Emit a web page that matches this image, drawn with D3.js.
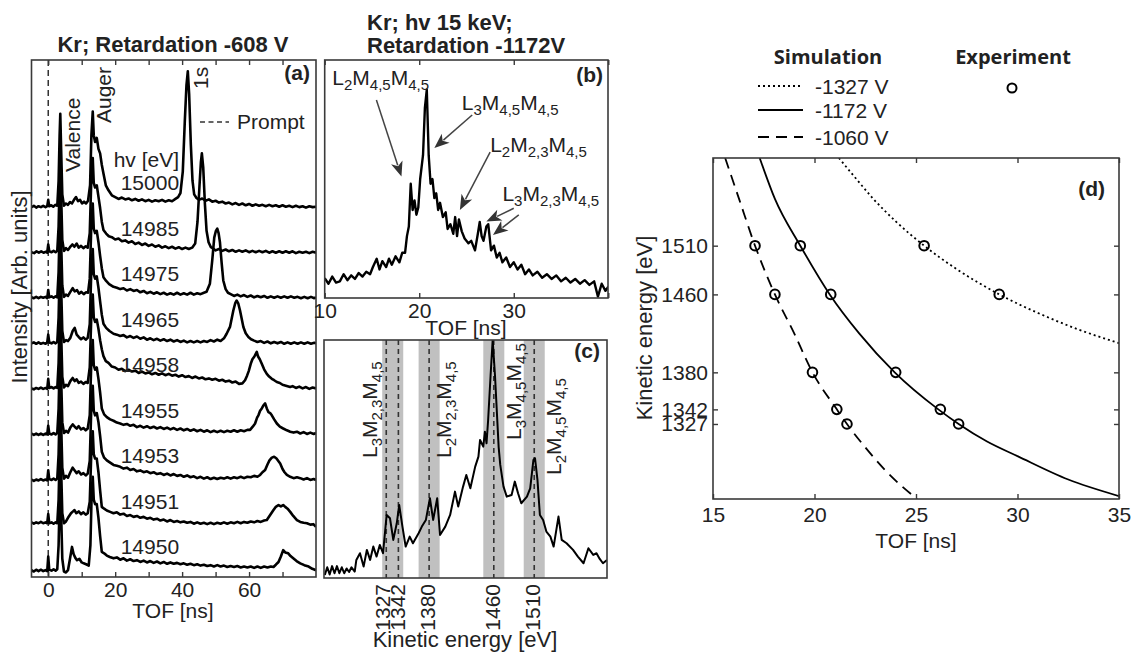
<!DOCTYPE html>
<html><head><meta charset="utf-8">
<script src="https://cdn.jsdelivr.net/npm/d3@7"></script>
<style>body{margin:0;background:#fff}svg{display:block}</style>
</head><body><svg id="c" width="1132" height="653"></svg>
<script>
// ---------------- DATA ----------------
// Panel (a): photon energies (top to bottom) and TOF spectra [TOF ns, intensity]
const hvLabels = ["15000","14985","14975","14965","14958","14955","14953","14951","14950"];
const tr15000 = [[-5,.02],[-4.3,.05],[-3.6,.01],[-2.9,.04],[-2.2,.02],[-1.5,.05],[-0.8,.02],[-0.3,.04],[0,.18],[0.3,.04],[0.9,.06],[1.5,.03],[2.1,.07],[2.7,.05],[3.1,.6],[3.4,1.6],[3.6,2.07],[3.85,1.3],[4.2,.3],[4.7,.05],[5.3,.1],[5.9,.07],[6.5,.13],[7.1,.1],[7.7,.18],[8.3,.24],[8.9,.15],[9.5,.18],[10.1,.1],[10.7,.14],[11.3,.1],[11.9,.16],[12.5,.5],[12.9,1.6],[13.3,2.12],[13.6,1.6],[14.0,1.45],[14.5,1.54],[15.0,1.3],[15.5,1.2],[16.0,.95],[16.5,.76],[17.2,.5],[18.0,.39],[19.0,.28],[20,.24],[21,.2],[22,.23],[23,.19],[24,.21],[25,.17],[26,.2],[27,.16],[28,.19],[29,.15],[30,.18],[31,.14],[32,.17],[33,.15],[34,.18],[35,.14],[36,.17],[37,.15],[38,.2],[38.8,.24],[39.5,.33],[40.2,.8],[40.8,1.9],[41.3,2.7],[41.7,3.0],[42.1,2.5],[42.6,1.4],[43.1,.6],[43.6,.3],[44.3,.22],[45,.18],[46,.21],[47,.16],[48,.19],[49,.14],[50,.16],[51,.12],[52,.14],[53,.1],[54,.12],[55,.08],[56,.11],[57,.07],[58,.1],[59,.06],[60,.09],[61,.05],[62,.08],[63,.05],[64,.07],[65,.04],[66,.07],[67,.04],[68,.06],[69,.03],[70,.06],[71,.03],[72,.05],[73,.02],[74,.05],[75,.02],[76,.04],[77,.01],[78,.04],[79,.02],[80,.03]];
const tr14985 = [[-5,.03],[-4.2,.01],[-3.5,.05],[-2.8,.02],[-2.1,.05],[-1.4,.02],[-0.7,.04],[-0.3,.02],[0,.2],[0.3,.05],[1,.03],[1.6,.06],[2.2,.03],[2.7,.06],[3.1,.6],[3.4,1.6],[3.6,2.05],[3.85,1.3],[4.2,.3],[4.7,.06],[5.3,.12],[5.9,.08],[6.5,.14],[7.2,.2],[7.8,.15],[8.5,.22],[9.1,.13],[9.8,.17],[10.5,.12],[11.2,.16],[11.8,.13],[12.4,.45],[12.9,1.7],[13.3,2.1],[13.6,1.55],[14.0,1.45],[14.5,1.5],[15.0,1.25],[15.5,1.0],[16.0,.7],[16.5,.52],[17.3,.44],[18.1,.38],[19,.36],[20,.31],[21,.33],[22,.27],[23,.29],[24,.24],[25,.27],[26,.21],[27,.24],[28,.19],[29,.22],[30,.17],[31,.2],[32,.15],[33,.18],[34,.13],[35,.16],[36,.12],[37,.15],[38,.11],[39,.14],[40,.1],[41,.13],[42,.1],[43,.13],[43.9,.22],[44.6,.7],[45.2,1.5],[45.6,2.0],[45.9,2.2],[46.3,1.9],[46.8,1.1],[47.3,.5],[47.9,.25],[48.6,.14],[49.3,.11],[50,.07],[51,.1],[52,.06],[53,.09],[54,.05],[55,.08],[56,.04],[57,.07],[58,.04],[59,.07],[60,.03],[61,.06],[62,.03],[63,.06],[64,.03],[65,.06],[66,.02],[67,.05],[68,.02],[69,.05],[70,.02],[71,.05],[72,.02],[73,.05],[74,.01],[75,.04],[76,.02],[77,.04],[78,.01],[79,.04],[80,.02]];
const tr14975 = [[-5,.04],[-4.3,.02],[-3.6,.05],[-2.9,.02],[-2.2,.05],[-1.5,.03],[-0.8,.05],[-0.3,.02],[0,.2],[0.3,.04],[1,.06],[1.6,.03],[2.2,.06],[2.7,.04],[3.1,.6],[3.4,1.6],[3.6,2.05],[3.85,1.3],[4.2,.3],[4.7,.05],[5.3,.1],[5.9,.07],[6.6,.16],[7.3,.24],[7.9,.17],[8.6,.2],[9.2,.12],[9.9,.16],[10.6,.11],[11.3,.15],[11.9,.14],[12.4,.45],[12.9,1.7],[13.3,2.1],[13.6,1.55],[14.0,1.45],[14.5,1.5],[15.0,1.25],[15.5,.95],[16,.68],[16.5,.48],[17.3,.4],[18.2,.33],[19.5,.27],[20.5,.25],[21.5,.22],[22.5,.24],[23.5,.19],[24.5,.22],[25.5,.18],[26.5,.2],[27.5,.15],[28.5,.18],[29.5,.13],[30.5,.16],[31.5,.12],[32.5,.15],[33.5,.11],[34.5,.14],[35.5,.1],[36.5,.13],[37.5,.1],[38.5,.14],[39.5,.1],[40.5,.13],[41.5,.1],[42.5,.14],[43.5,.1],[44.5,.13],[45.5,.11],[46.5,.14],[47.3,.16],[48.3,.34],[49.0,.85],[49.6,1.35],[50.1,1.5],[50.5,1.55],[50.9,1.45],[51.3,1.25],[51.8,.8],[52.3,.41],[53.0,.22],[53.7,.14],[54.5,.11],[55.5,.07],[56.5,.1],[57.5,.06],[58.5,.09],[59.5,.05],[60.5,.08],[61.5,.04],[62.5,.07],[63.5,.04],[64.5,.07],[65.5,.03],[66.5,.06],[67.5,.03],[68.5,.06],[69.5,.03],[70.5,.06],[71.5,.03],[72.5,.06],[73.5,.03],[74.5,.05],[75.5,.02],[76.5,.05],[77.5,.02],[78.5,.05],[79.5,.02],[80,.04]];
const tr14965 = [[-5,.03],[-4.3,.05],[-3.6,.02],[-2.9,.05],[-2.2,.02],[-1.5,.04],[-0.8,.02],[-0.3,.05],[0,.22],[0.3,.05],[1,.03],[1.6,.06],[2.2,.03],[2.7,.06],[3.1,.6],[3.4,1.6],[3.6,2.05],[3.85,1.3],[4.2,.3],[4.7,.06],[5.3,.1],[5.9,.08],[6.6,.15],[7.3,.3],[7.9,.37],[8.5,.22],[9.1,.17],[9.8,.12],[10.5,.16],[11.2,.11],[11.8,.15],[12.4,.45],[12.9,1.7],[13.3,2.1],[13.6,1.55],[14.0,1.45],[14.5,1.5],[15.0,1.25],[15.5,.95],[16,.66],[16.5,.46],[17.3,.37],[18.3,.3],[19.5,.24],[20.5,.22],[21.5,.19],[22.5,.21],[23.5,.16],[24.5,.19],[25.5,.15],[26.5,.18],[27.5,.13],[28.5,.16],[29.5,.11],[30.5,.14],[31.5,.1],[32.5,.13],[33.5,.09],[34.5,.12],[35.5,.08],[36.5,.11],[37.5,.07],[38.5,.1],[39.5,.06],[40.5,.09],[41.5,.05],[42.5,.08],[43.5,.05],[44.5,.08],[45.5,.05],[46.5,.08],[47.5,.06],[48.5,.1],[49.5,.07],[50.5,.11],[51.5,.08],[52.5,.14],[53.3,.24],[54.3,.39],[55.3,.75],[55.9,.92],[56.3,.97],[56.8,.9],[57.3,.75],[58.3,.39],[59,.25],[59.8,.17],[60.6,.12],[61.5,.09],[62.5,.06],[63.5,.08],[64.5,.04],[65.5,.07],[66.5,.03],[67.5,.06],[68.5,.03],[69.5,.06],[70.5,.02],[71.5,.05],[72.5,.02],[73.5,.05],[74.5,.02],[75.5,.05],[76.5,.02],[77.5,.05],[78.5,.02],[79.5,.04],[80,.03]];
const tr14958 = [[-5,.04],[-4.3,.02],[-3.6,.05],[-2.9,.03],[-2.2,.06],[-1.5,.03],[-0.8,.05],[-0.3,.03],[0,.25],[0.3,.05],[1,.07],[1.6,.04],[2.2,.07],[2.7,.05],[3.1,.6],[3.4,1.6],[3.6,2.05],[3.85,1.3],[4.2,.3],[4.7,.06],[5.3,.12],[5.9,.09],[6.6,.2],[7.3,.27],[7.9,.2],[8.5,.24],[9.1,.16],[9.8,.19],[10.5,.14],[11.2,.18],[11.8,.16],[12.4,.5],[12.9,1.7],[13.3,2.1],[13.6,1.6],[14.0,1.5],[14.5,1.55],[15.0,1.35],[15.5,1.1],[16,.9],[16.5,.75],[17.2,.64],[18,.6],[19,.52],[20,.5],[21,.45],[22,.47],[23,.42],[24,.45],[25,.41],[26,.43],[27,.38],[28,.41],[29,.37],[30,.39],[31,.35],[32,.38],[33,.34],[34,.37],[35,.33],[36,.36],[37,.32],[38,.34],[39,.3],[40,.33],[41,.29],[42,.31],[43,.27],[44,.3],[45,.26],[46,.28],[47,.24],[48,.26],[49,.23],[50,.25],[51,.21],[52,.23],[53,.19],[54,.21],[55,.17],[56,.19],[57,.14],[58,.15],[58.8,.22],[59.4,.32],[59.9,.42],[60.5,.58],[61.0,.68],[61.6,.74],[62.0,.8],[62.3,.84],[62.7,.74],[63.2,.68],[63.8,.58],[64.5,.46],[65.3,.36],[66,.3],[66.8,.25],[67.5,.22],[68.3,.18],[69.2,.16],[70,.12],[71,.1],[72.3,.07],[73,.09],[74,.05],[75,.08],[76,.04],[77,.07],[78,.03],[79,.06],[80,.04]];
const tr14955 = [[-5,.05],[-4.3,.02],[-3.6,.05],[-2.9,.02],[-2.2,.05],[-1.5,.02],[-0.8,.05],[-0.3,.03],[0,.22],[0.3,.05],[1,.03],[1.6,.06],[2.2,.03],[2.7,.06],[3.1,.6],[3.4,1.6],[3.6,2.05],[3.85,1.3],[4.2,.3],[4.7,.06],[5.3,.11],[5.9,.07],[6.6,.18],[7.3,.25],[7.9,.2],[8.5,.16],[9.1,.21],[9.8,.14],[10.5,.17],[11.2,.12],[11.8,.16],[12.4,.45],[12.9,1.7],[13.3,2.1],[13.6,1.55],[14.0,1.45],[14.5,1.5],[15.0,1.25],[15.5,.95],[16,.6],[16.7,.47],[17.5,.41],[18.5,.36],[19.5,.33],[20.5,.29],[21.5,.27],[22.5,.24],[23.5,.26],[24.5,.22],[25.5,.24],[26.5,.19],[27.5,.22],[28.5,.18],[29.5,.21],[30.5,.17],[31.5,.2],[32.5,.16],[33.5,.19],[34.5,.15],[35.5,.18],[36.5,.14],[37.5,.17],[38.5,.13],[39.5,.16],[40.5,.12],[41.5,.15],[42.5,.11],[43.5,.14],[44.5,.1],[45.5,.13],[46.5,.09],[47.5,.12],[48.5,.08],[49.5,.11],[50.5,.08],[51.5,.11],[52.5,.08],[53.5,.11],[54.5,.09],[55.5,.12],[56.5,.09],[57.5,.12],[58.5,.1],[59.5,.13],[60.3,.13],[61.1,.2],[61.8,.27],[62.4,.4],[62.8,.45],[63.3,.55],[63.8,.6],[64.3,.67],[64.8,.71],[65.3,.6],[65.8,.52],[66.3,.5],[66.8,.45],[67.5,.36],[68.3,.27],[69.2,.2],[70.2,.16],[71.3,.12],[72.3,.09],[73.3,.07],[74.3,.09],[75.3,.05],[76.3,.08],[77.3,.04],[78.3,.07],[79.3,.04],[80,.06]];
const tr14953 = [[-5,.04],[-4.3,.01],[-3.6,.04],[-2.9,.02],[-2.2,.05],[-1.5,.02],[-0.8,.04],[-0.3,.02],[0,.24],[0.3,.05],[1,.03],[1.6,.06],[2.2,.03],[2.7,.06],[3.1,.6],[3.4,1.6],[3.6,2.05],[3.85,1.3],[4.2,.3],[4.7,.06],[5.3,.12],[5.9,.08],[6.6,.2],[7.3,.3],[7.9,.24],[8.5,.18],[9.1,.22],[9.8,.15],[10.5,.18],[11.2,.13],[11.8,.17],[12.4,.45],[12.9,1.7],[13.3,2.1],[13.6,1.55],[14.0,1.45],[14.5,1.5],[15.0,1.3],[15.5,1.0],[16,.65],[16.7,.52],[17.5,.46],[18.5,.41],[19.5,.36],[20.5,.34],[21.5,.32],[22.5,.28],[23.5,.3],[24.5,.25],[25.5,.27],[26.5,.22],[27.5,.24],[28.5,.2],[29.5,.22],[30.5,.18],[31.5,.2],[32.5,.16],[33.5,.18],[34.5,.14],[35.5,.17],[36.5,.13],[37.5,.16],[38.5,.12],[39.5,.14],[40.5,.1],[41.5,.13],[42.5,.09],[43.5,.11],[44.5,.07],[45.5,.1],[46.5,.06],[47.5,.09],[48.5,.05],[49.5,.08],[50.5,.05],[51.5,.08],[52.5,.06],[53.5,.09],[54.5,.06],[55.5,.09],[56.5,.07],[57.5,.1],[58.5,.07],[59.5,.1],[60.5,.09],[61.5,.12],[62.5,.1],[63.3,.14],[64,.2],[64.8,.25],[65.5,.37],[66.1,.46],[66.8,.52],[67.5,.54],[68.2,.5],[68.8,.44],[69.3,.39],[70,.27],[70.6,.2],[71.3,.14],[72.3,.1],[73.3,.07],[74.3,.09],[75.3,.07],[76.3,.04],[77.3,.07],[78.3,.03],[79.3,.05],[80,.03]];
const tr14951 = [[-5,.1],[-4.3,.07],[-3.6,.1],[-2.9,.08],[-2.2,.11],[-1.5,.08],[-0.8,.1],[-0.3,.08],[0,.28],[0.3,.08],[1,.1],[1.6,.07],[2.2,.1],[2.7,.08],[3.1,.6],[3.4,1.6],[3.6,2.05],[3.85,1.3],[4.2,.3],[4.7,.08],[5.3,.12],[5.9,.2],[6.8,.3],[7.4,.34],[7.8,.37],[8.4,.3],[9.1,.34],[9.8,.28],[10.5,.32],[11.2,.27],[11.8,.3],[12.4,.55],[12.9,1.7],[13.3,2.1],[13.6,1.6],[14.0,1.5],[14.5,1.5],[15.0,1.2],[15.5,.8],[16,.44],[16.7,.4],[17.5,.36],[18.5,.33],[19.5,.3],[20.5,.32],[21.5,.27],[22.5,.29],[23.5,.24],[24.5,.26],[25.5,.22],[26.5,.24],[27.5,.2],[28.5,.22],[29.5,.18],[30.5,.2],[31.5,.16],[32.5,.18],[33.5,.14],[34.5,.16],[35.5,.12],[36.5,.15],[37.5,.11],[38.5,.13],[39.5,.1],[40.5,.12],[41.5,.09],[42.5,.11],[43.5,.07],[44.5,.1],[45.5,.07],[46.5,.09],[47.5,.06],[48.5,.09],[49.5,.06],[50.5,.09],[51.5,.07],[52.5,.1],[53.5,.07],[54.5,.1],[55.5,.08],[56.5,.11],[57.5,.08],[58.5,.11],[59.5,.09],[60.5,.12],[61.5,.1],[62.5,.13],[63.5,.11],[64.5,.14],[65.3,.15],[66.2,.25],[67.3,.37],[68,.44],[68.8,.48],[69.5,.45],[70.2,.48],[70.8,.44],[71.5,.4],[72.3,.33],[73.2,.24],[74.3,.15],[75.3,.11],[76.3,.09],[77.3,.08],[78.3,.05],[79.2,.06],[80,.0]];
const tr14950 = [[-5,.05],[-4.3,.02],[-3.6,.06],[-2.9,.03],[-2.2,.06],[-1.5,.03],[-0.8,.05],[-0.3,.03],[0,.35],[0.3,.06],[1,.04],[1.6,.07],[2.2,.04],[2.7,.07],[3.1,.6],[3.4,1.6],[3.6,2.05],[3.85,1.3],[4.2,.3],[4.7,.02],[5.3,.0],[5.9,.05],[6.5,.3],[7.1,.56],[7.6,.4],[8.1,.32],[8.6,.27],[9.3,.3],[10,.22],[10.6,.2],[11.3,.18],[12.1,.15],[12.6,.6],[13.0,1.8],[13.3,2.1],[13.6,1.6],[14.0,1.5],[14.5,1.5],[15.0,1.2],[15.5,.8],[16,.45],[16.7,.42],[17.5,.37],[18.4,.34],[19.5,.31],[20.5,.33],[21.5,.28],[22.5,.31],[23.5,.26],[24.5,.29],[25.5,.25],[26.5,.27],[27.5,.23],[28.5,.26],[29.5,.22],[30.5,.25],[31.5,.21],[32.5,.24],[33.5,.2],[34.5,.23],[35.5,.19],[36.5,.22],[37.5,.19],[38.5,.21],[39.5,.18],[40.5,.2],[41.5,.17],[42.5,.19],[43.5,.16],[44.5,.18],[45.5,.15],[46.5,.17],[47.5,.14],[48.5,.16],[49.5,.13],[50.5,.16],[51.5,.13],[52.5,.15],[53.5,.12],[54.5,.14],[55.5,.12],[56.5,.14],[57.5,.11],[58.5,.13],[59.5,.11],[60.5,.13],[61.5,.1],[62.5,.13],[63.5,.1],[64.5,.13],[65.5,.11],[66.5,.13],[67.3,.12],[68,.17],[68.8,.23],[69.5,.35],[70.2,.49],[70.8,.44],[71.7,.42],[72.4,.36],[73.2,.31],[74.2,.25],[75.3,.2],[76.5,.16],[77.8,.13],[78.9,.08],[80,.05]];
const tracesA = [tr15000,tr14985,tr14975,tr14965,tr14958,tr14955,tr14953,tr14951,tr14950];
const tickA = [0,10,20,30,40,50,60,70];
const tickLabelA = [0,20,40,60];

// Panel (b): TOF [ns] and intensity
const tofB = [10,10.4,10.8,11.2,11.6,12,12.4,12.8,13.2,13.6,14,14.4,14.8,15.1,15.5,15.8,16.1,16.5,16.8,17.1,17.5,17.9,18.2,18.5,18.7,18.9,19.1,19.3,19.5,19.7,19.9,20.1,20.4,20.6,20.8,21,21.2,21.4,21.6,21.8,22,22.2,22.5,22.8,23,23.3,23.6,23.8,24,24.2,24.5,24.8,25.2,25.5,25.9,26.2,26.4,26.6,26.8,27.1,27.3,27.6,27.9,28.2,28.5,28.8,29.2,29.6,30,30.4,30.8,31.2,31.6,32,32.5,33,33.5,34,34.5,35,35.5,36,36.5,37,37.5,38,38.5,38.9,39.3,39.7,40];
const intB = [.083,.06,.09,.065,.07,.1,.075,.095,.08,.105,.09,.11,.1,.13,.165,.12,.155,.13,.165,.14,.175,.15,.19,.19,.26,.3,.48,.37,.41,.35,.38,.5,.6,.8,.875,.6,.48,.5,.42,.44,.37,.4,.34,.36,.29,.31,.27,.34,.26,.33,.28,.25,.23,.24,.2,.27,.32,.26,.24,.3,.31,.2,.22,.17,.19,.15,.17,.13,.15,.12,.14,.1,.12,.095,.11,.085,.1,.08,.095,.07,.085,.065,.08,.06,.075,.055,.07,.006,.06,.03,.048];
const tickB = [10,20,30,40];
const tickLabelB = [10,20,30];

// Panel (c): kinetic energy [eV] and intensity
const energyC = [1251,1254,1257,1260,1263,1266,1269,1272,1275,1278,1281,1284,1288,1290,1294.5,1299,1303,1307,1311,1315,1319,1323,1327.5,1331.6,1335.7,1340,1343,1347,1351,1356,1360,1367,1371,1376,1381,1385,1390,1393.5,1400,1406,1412,1416,1422,1426,1431,1437,1441,1443,1447,1449,1451,1453,1456,1458.6,1461.5,1463,1466,1468,1472,1476,1482,1486,1490,1494,1501,1505,1509,1511,1514,1517,1521,1525,1530,1534,1540,1544,1550,1558,1564,1571,1577,1583,1587,1591,1595,1600];
const intC = [.013,.045,.015,.05,.02,.05,.02,.045,.02,.04,.025,.045,.027,.076,.104,.048,.118,.076,.132,.09,.139,.104,.265,.251,.16,.23,.307,.216,.132,.174,.146,.188,.216,.244,.335,.244,.335,.181,.216,.265,.363,.3,.384,.433,.377,.468,.51,.58,.552,.615,.566,.664,.85,1.0,.85,.75,.55,.475,.384,.342,.349,.405,.356,.314,.342,.377,.496,.503,.412,.265,.244,.195,.174,.132,.258,.16,.146,.118,.09,.062,.125,.097,.104,.08,.062,.076];
const peakEnergies = [1327,1342,1380,1460,1510];
const bandsC = [[1322,1348],[1367,1393],[1447,1473],[1497,1523]];

// Panel (d): simulated curves [TOF ns, kinetic energy eV] and experiment points
const sim1327 = [[21.2,1600],[22.0,1580],[22.9,1558],[24.0,1535],[25.4,1510],[27.0,1486],[29.1,1460],[31.0,1441],[33.0,1424],[35,1410]];
const sim1172 = [[17.3,1600],[18.05,1558],[19.3,1510],[20.75,1460],[22.2,1420],[23.95,1380],[26.1,1342],[27.1,1327],[28.5,1309],[30,1294],[32.5,1270],[35,1253]];
const sim1060 = [[15.6,1600],[16.3,1557],[17.07,1510],[18.05,1460],[19.0,1420],[19.9,1380],[21.1,1342],[21.6,1327],[22.5,1303],[23.6,1277],[25.05,1250]];
const exp1327 = [[25.4,1510],[29.1,1460]];
const exp1172 = [[19.3,1510],[20.8,1460],[24.0,1380],[26.2,1342],[27.1,1327]];
const exp1060 = [[17.07,1510],[18.05,1460],[19.9,1380],[21.1,1342],[21.6,1327]];
const tickDx = [15,20,25,30,35];
const tickDy = [1327,1342,1380,1460,1510];
const legendD = ["-1327 V","-1172 V","-1060 V"];

// ---------------- DRAWING ----------------
const FONT = '"Liberation Sans", Arial, Helvetica, sans-serif';
const FS = 21, INK = "#222", FRAME = "#3a3a3a";
const svg = d3.select("#c");
const defs = svg.append("defs");

function clip(id,x0,y0,x1,y1){ defs.append("clipPath").attr("id",id).append("rect").attr("x",x0).attr("y",y0).attr("width",x1-x0).attr("height",y1-y0); }
function styleAxis(g){
  g.select(".domain").remove();
  g.selectAll("line").attr("stroke",FRAME).attr("stroke-width",1.4);
  g.selectAll("text").attr("font-size",FS).attr("font-family",FONT).attr("fill",INK);
}
function frame(x0,y0,x1,y1){
  svg.append("rect").attr("x",x0).attr("y",y0).attr("width",x1-x0).attr("height",y1-y0)
    .attr("fill","none").attr("stroke",FRAME).attr("stroke-width",1.6);
}
function txt(x,y,s,o={}){
  const t = svg.append("text").attr("x",x).attr("y",y).text(s)
    .attr("font-family",o.family||FONT).attr("font-size",o.size||FS).attr("fill",INK)
    .attr("text-anchor",o.anchor||"start").attr("font-weight",o.weight||"normal");
  if(o.rotate) t.attr("transform",`rotate(${o.rotate},${x},${y})`);
  return t;
}
// label with subscripts: parts = [[text, isSub],...]
function subLabel(x,y,parts,rotate){
  const g = svg.append("g").attr("transform",`translate(${x},${y})` + (rotate?` rotate(${rotate})`:""));
  const t = g.append("text").attr("font-family",FONT).attr("fill",INK).attr("font-size",FS);
  let prevSub=false;
  parts.forEach(([s,sub])=>{
    const ts=t.append("tspan").text(s).attr("font-size",sub?15:FS);
    if(sub&&!prevSub) ts.attr("dy",5);
    if(!sub&&prevSub) ts.attr("dy",-5);
    prevSub=sub;
  });
}
const P = {
  L2M45M45:[["L",0],["2",1],["M",0],["4,5",1],["M",0],["4,5",1]],
  L3M45M45:[["L",0],["3",1],["M",0],["4,5",1],["M",0],["4,5",1]],
  L2M23M45:[["L",0],["2",1],["M",0],["2,3",1],["M",0],["4,5",1]],
  L3M23M45:[["L",0],["3",1],["M",0],["2,3",1],["M",0],["4,5",1]]
};

// ===== Panel (a) =====
const A = {x0:31.5,x1:316,y0:60,y1:577};
const xA = d3.scaleLinear().domain([-5,80]).range([A.x0,A.x1]);
const yA = d3.scaleLinear().domain([-0.1,11.25]).range([A.y1,A.y0]);
clip("clipA",A.x0,A.y0,A.x1,A.y1);
const gA = svg.append("g").attr("clip-path","url(#clipA)");
gA.append("line").attr("x1",xA(0)).attr("x2",xA(0)).attr("y1",A.y0).attr("y2",A.y1)
  .attr("stroke","#333").attr("stroke-width",1.5).attr("stroke-dasharray","6,4");
const nA = tracesA.length;
tracesA.forEach((tr,k)=>{
  const off = nA-1-k;
  const line = d3.line().x(d=>xA(d[0])).y(d=>yA(d[1]+off));
  gA.append("path").datum(tr).attr("d",line).attr("fill","none").attr("stroke","#000")
    .attr("stroke-width",2.6).attr("stroke-linejoin","round");
});
svg.append("g").attr("transform",`translate(0,${A.y1})`)
  .call(d3.axisBottom(xA).tickValues(tickA).tickSize(-5).tickPadding(5).tickFormat(d=>tickLabelA.includes(d)?d:""))
  .call(styleAxis);
svg.append("g").attr("transform",`translate(0,${A.y0})`)
  .call(d3.axisTop(xA).tickValues(tickA).tickSize(-5).tickFormat(""))
  .call(styleAxis);
frame(A.x0,A.y0,A.x1,A.y1);
txt(173,52,"Kr; Retardation -608 V",{anchor:"middle",weight:"bold",size:22});
txt(310,80,"(a)",{anchor:"end",weight:"bold"});
txt(173,618,"TOF [ns]",{anchor:"middle"});
txt(27,287,"Intensity [Arb. units]",{anchor:"middle",rotate:-90,size:22});
txt(80,172,"Valence",{rotate:-90});
txt(111,123,"Auger",{rotate:-90});
txt(208,89,"1s",{rotate:-90});
svg.append("line").attr("x1",200).attr("x2",229).attr("y1",122).attr("y2",122)
  .attr("stroke","#333").attr("stroke-width",1.5).attr("stroke-dasharray","5,3.5");
txt(237,129,"Prompt");
txt(179,167,"hv [eV]",{anchor:"end"});
hvLabels.forEach((lab,k)=>{
  const off = nA-1-k;
  txt(xA(39.1), yA(off)-18, lab, {anchor:"end"});
});

// ===== Panel (b) =====
const B = {x0:324.7,x1:608,y0:60,y1:298};
const xB = d3.scaleLinear().domain([10,40]).range([B.x0,B.x1+0.3]);
const yB = d3.scaleLinear().domain([0,1]).range([B.y1,B.y0]);
clip("clipB",B.x0,B.y0,B.x1,B.y1);
const gB = svg.append("g").attr("clip-path","url(#clipB)");
gB.append("path").datum(d3.zip(tofB,intB))
  .attr("d",d3.line().x(d=>xB(d[0])).y(d=>yB(d[1])))
  .attr("fill","none").attr("stroke","#000").attr("stroke-width",2.4).attr("stroke-linejoin","round");
svg.append("g").attr("transform",`translate(0,${B.y1})`)
  .call(d3.axisBottom(xB).tickValues(tickB).tickSize(-5).tickPadding(5).tickFormat(d=>tickLabelB.includes(d)?d:""))
  .call(styleAxis);
svg.append("g").attr("transform",`translate(0,${B.y0})`)
  .call(d3.axisTop(xB).tickValues(tickB).tickSize(-5).tickFormat(""))
  .call(styleAxis);
frame(B.x0,B.y0,B.x1,B.y1);
txt(367,30,"Kr; hv 15 keV;",{weight:"bold",size:22});
txt(367,53,"Retardation -1172V",{weight:"bold",size:22});
txt(603,82,"(b)",{anchor:"end",weight:"bold"});
txt(466,335,"TOF [ns]",{anchor:"middle"});
// annotation labels (in data coordinates of panel b)
subLabel(xB(10.8),yB(0.895),P.L2M45M45);
subLabel(xB(24.5),yB(0.79),P.L3M45M45);
subLabel(xB(27.5),yB(0.613),P.L2M23M45);
subLabel(xB(28.8),yB(0.408),P.L3M23M45);
const arrowsB = [[[15.47,0.832],[18.12,0.51]],[[25.6,0.769],[21.6,0.63]],[[27.5,0.613],[24.3,0.37]],[[30.0,0.377],[27.1,0.321]],[[30.53,0.349],[27.8,0.265]]];
arrowsB.forEach(([a,b])=>{
  const x1=xB(a[0]),y1=yB(a[1]),x2=xB(b[0]),y2=yB(b[1]);
  const ang=Math.atan2(y2-y1,x2-x1), L=15, Wd=6;
  const bx=x2-L*Math.cos(ang), by=y2-L*Math.sin(ang);
  svg.append("line").attr("x1",x1).attr("y1",y1).attr("x2",bx+3*Math.cos(ang)).attr("y2",by+3*Math.sin(ang))
    .attr("stroke","#444").attr("stroke-width",1.5);
  const px=-Math.sin(ang),py=Math.cos(ang);
  const bx2=x2-(L-4)*Math.cos(ang), by2=y2-(L-4)*Math.sin(ang);
  svg.append("path").attr("d",`M${x2},${y2}L${bx+Wd*px},${by+Wd*py}L${bx2},${by2}L${bx-Wd*px},${by-Wd*py}Z`).attr("fill","#333");
});

// ===== Panel (c) =====
const C = {x0:324,x1:607,y0:340,y1:578};
const xC = d3.scaleLinear().domain([1250,1600]).range([C.x0,C.x1]);
const yC = d3.scaleLinear().domain([0,1]).range([C.y1,C.y0]);
svg.append("rect").attr("x",C.x0).attr("y",C.y0).attr("width",C.x1-C.x0).attr("height",C.y1-C.y0).attr("fill","#fff");
clip("clipC",C.x0,C.y0,C.x1,C.y1);
const gC = svg.append("g").attr("clip-path","url(#clipC)");
gC.selectAll("rect.band").data(bandsC).enter().append("rect")
  .attr("x",d=>xC(d[0])).attr("width",d=>xC(d[1])-xC(d[0])).attr("y",C.y0).attr("height",C.y1-C.y0).attr("fill","#c0c0c0");
gC.selectAll("line.pk").data(peakEnergies).enter().append("line")
  .attr("x1",d=>xC(d)).attr("x2",d=>xC(d)).attr("y1",C.y0).attr("y2",C.y1)
  .attr("stroke","#333").attr("stroke-width",1.6).attr("stroke-dasharray","5,4");
gC.append("path").datum(d3.zip(energyC,intC))
  .attr("d",d3.line().x(d=>xC(d[0])).y(d=>yC(d[1])))
  .attr("fill","none").attr("stroke","#000").attr("stroke-width",2).attr("stroke-linejoin","round");
svg.append("g").attr("transform",`translate(0,${C.y1})`)
  .call(d3.axisBottom(xC).tickValues(peakEnergies).tickSize(0).tickFormat(d3.format("d")))
  .call(styleAxis)
  .call(g=>g.selectAll("text").attr("transform","rotate(-90)").attr("text-anchor","end")
      .attr("x",-6).attr("y",0).attr("dy",d=> d===1327 ? "0.14em" : "0.27em"));
frame(C.x0,C.y0,C.x1,C.y1);
txt(600,358,"(c)",{anchor:"end",weight:"bold"});
txt(465,647,"Kinetic energy [eV]",{anchor:"middle",size:22});
subLabel(xC(1315.5),yC(0.504),P.L3M23M45,-90);
subLabel(xC(1407),yC(0.504),P.L2M23M45,-90);
subLabel(xC(1493.6),yC(0.58),P.L3M45M45,-90);
subLabel(xC(1543),yC(0.433),P.L2M45M45,-90);

// ===== Panel (d) =====
const D = {x0:713,x1:1119,y0:158,y1:499};
const xD = d3.scaleLinear().domain([15,35]).range([D.x0,D.x1]);
const yD = d3.scaleLinear().domain([1250,1600]).range([D.y1,D.y0]);
clip("clipD",D.x0,D.y0,D.x1,D.y1);
const gD = svg.append("g").attr("clip-path","url(#clipD)");
const lineD = d3.line().x(d=>xD(d[0])).y(d=>yD(d[1])).curve(d3.curveMonotoneX);
const styles = [{d:sim1327,dash:"2,3"},{d:sim1172,dash:null},{d:sim1060,dash:"11,7"}];
styles.forEach(s=>{
  const p=gD.append("path").datum(s.d).attr("d",lineD).attr("fill","none").attr("stroke","#000").attr("stroke-width",1.8);
  if(s.dash) p.attr("stroke-dasharray",s.dash);
});
[exp1327,exp1172,exp1060].forEach(arr=>{
  gD.selectAll(null).data(arr).enter().append("circle")
    .attr("cx",d=>xD(d[0])).attr("cy",d=>yD(d[1])).attr("r",4.8)
    .attr("fill","none").attr("stroke","#000").attr("stroke-width",2);
});
svg.append("g").attr("transform",`translate(0,${D.y1})`)
  .call(d3.axisBottom(xD).tickValues(tickDx).tickSize(-5).tickPadding(8)).call(styleAxis);
svg.append("g").attr("transform",`translate(0,${D.y0})`)
  .call(d3.axisTop(xD).tickValues(tickDx).tickSize(-5).tickFormat("")).call(styleAxis);
svg.append("g").attr("transform",`translate(${D.x0},0)`)
  .call(d3.axisLeft(yD).tickValues(tickDy).tickSize(-5).tickPadding(5).tickFormat(d3.format("d"))).call(styleAxis);
svg.append("g").attr("transform",`translate(${D.x1},0)`)
  .call(d3.axisRight(yD).tickValues(tickDy).tickSize(-5).tickFormat("")).call(styleAxis);
frame(D.x0,D.y0,D.x1,D.y1);
txt(1105,196,"(d)",{anchor:"end",weight:"bold"});
txt(916,548,"TOF [ns]",{anchor:"middle"});
txt(652,328,"Kinetic energy [eV]",{anchor:"middle",rotate:-90,size:22});
// legend
txt(828,64,"Simulation",{anchor:"middle",weight:"bold",family:'"Open Sans", sans-serif',size:20});
txt(1013,64,"Experiment",{anchor:"middle",weight:"bold",family:'"Open Sans", sans-serif',size:20});
const legY = [86,110,137];
styles.forEach((s,i)=>{
  const l=svg.append("line").attr("x1",758).attr("x2",803).attr("y1",legY[i]).attr("y2",legY[i])
    .attr("stroke","#000").attr("stroke-width",1.8);
  if(s.dash) l.attr("stroke-dasharray",s.dash);
  txt(815,legY[i]+7.5,legendD[i]);
});
svg.append("circle").attr("cx",1012).attr("cy",88).attr("r",4.5).attr("fill","none").attr("stroke","#000").attr("stroke-width",2);
</script></body></html>
